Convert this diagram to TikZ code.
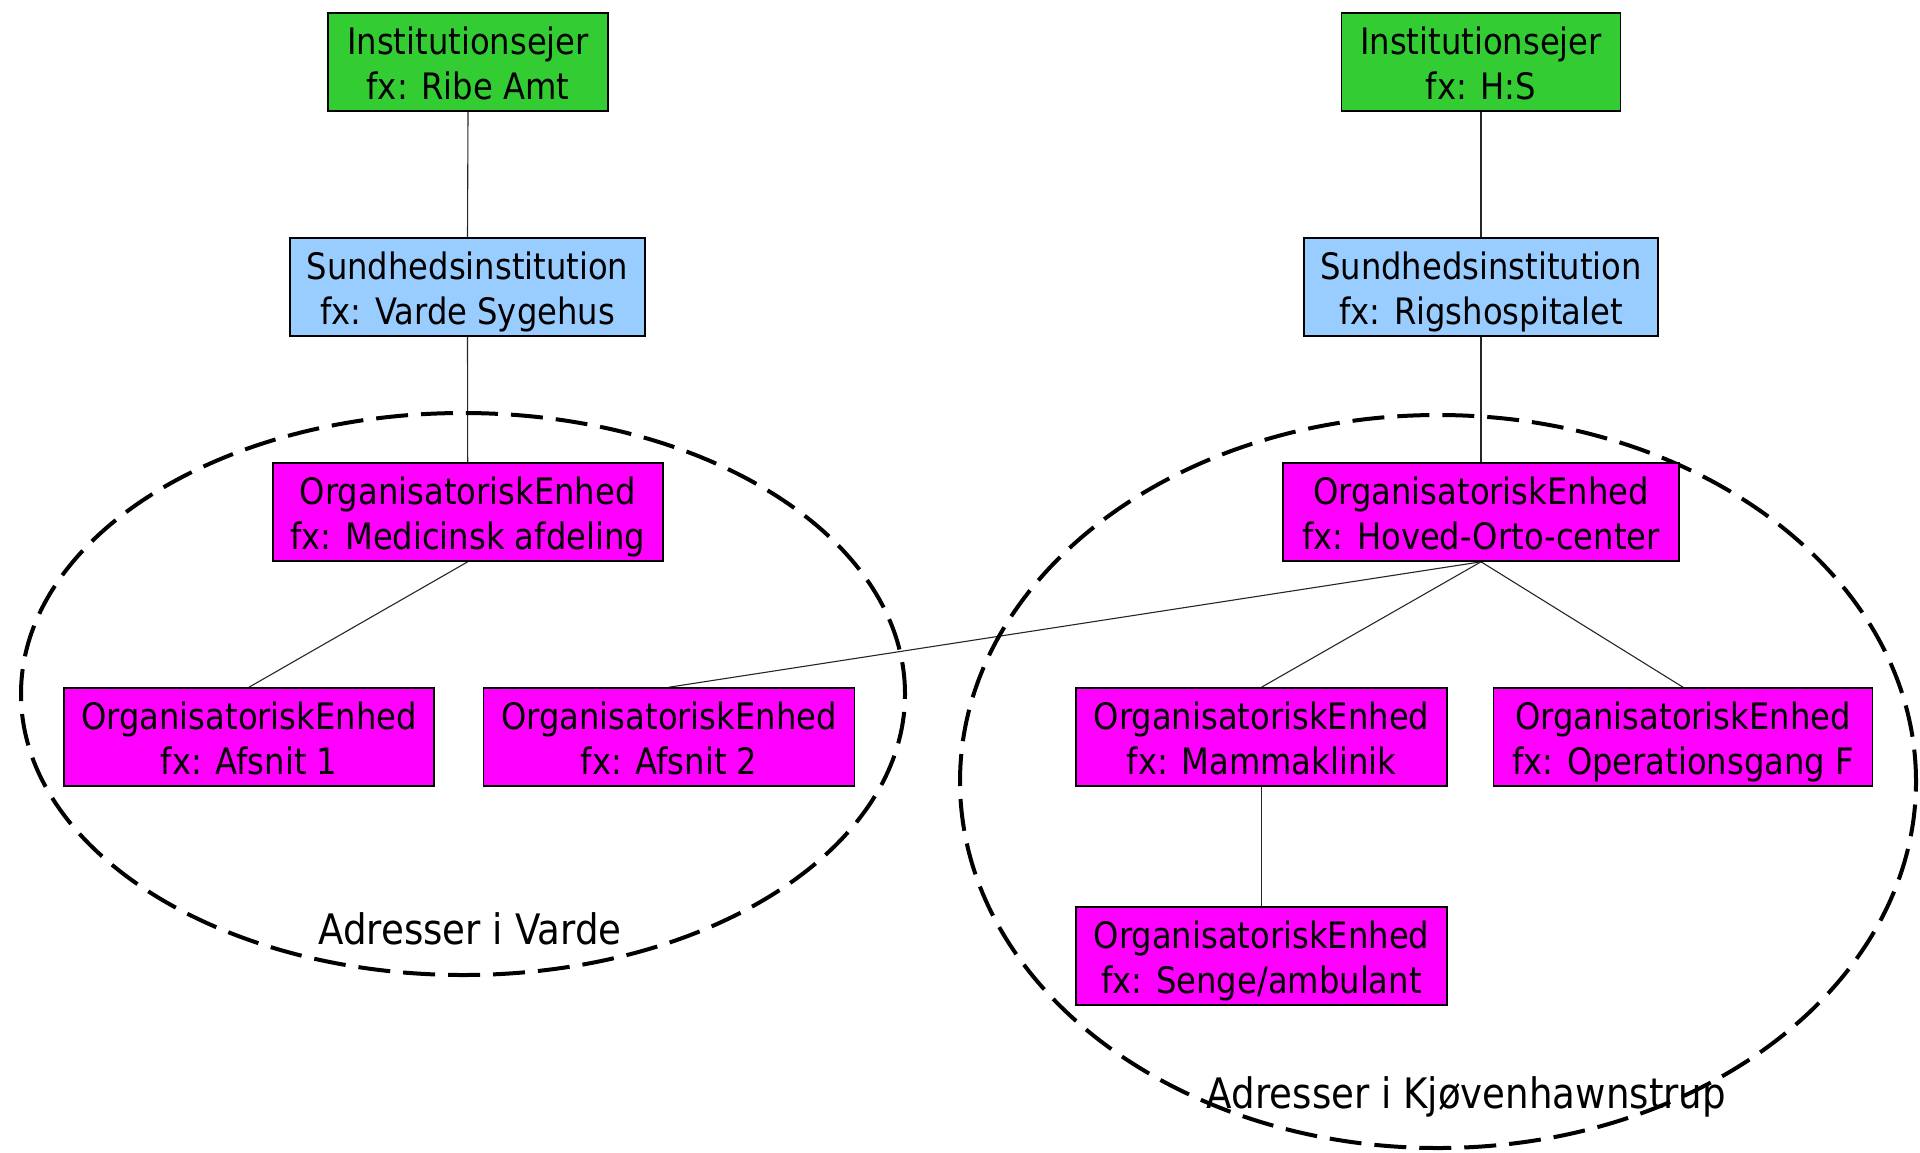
\documentclass[tikz,border=0pt]{standalone}
\usepackage{fontspec}
\setmainfont{DejaVu Sans}[FakeStretch=0.885]
\usetikzlibrary{backgrounds}
\definecolor{ownergreen}{RGB}{51,204,51}
\definecolor{instblue}{RGB}{153,204,255}
\definecolor{unitmag}{RGB}{255,0,255}
\newcommand{\mkbox}[2]{\rule{0pt}{19.8pt}#1\\#2\rule[-4.6pt]{0pt}{4.6pt}}
\tikzset{
  orgbox/.style={draw=black, line width=0.8pt, rectangle, align=center,
    minimum height=49pt, inner xsep=2pt, inner ysep=0pt,
    font=\fontsize{18.2pt}{22.25pt}\selectfont},
  ownerbox/.style={orgbox, fill=ownergreen},
  instbox/.style={orgbox, fill=instblue},
  unitbox/.style={orgbox, fill=unitmag},
  link/.style={draw=black!85, line width=0.55pt},
  region/.style={draw=black, line width=2pt, dash pattern=on 16pt off 6.5pt},
  regionlabel/.style={font=\fontsize{21pt}{25pt}\selectfont, inner sep=0pt, anchor=base}
}
\begin{document}
\begin{tikzpicture}[x=0.5pt,y=-0.5pt]
\useasboundingbox (0,0) rectangle (1920,1152);
% left hierarchy
\node[ownerbox, minimum width=140pt] (g1) at (468,62) {\mkbox{Institutionsejer}{fx: Ribe Amt}};
\node[instbox, minimum width=177.5pt] (b1) at (467.5,287) {\mkbox{Sundhedsinstitution}{fx: Varde Sygehus}};
\node[unitbox, minimum width=195pt] (m1) at (467.7,512) {\mkbox{OrganisatoriskEnhed}{fx: Medicinsk afdeling}};
\node[unitbox, minimum width=185pt] (a1) at (249,737) {\mkbox{OrganisatoriskEnhed}{fx: Afsnit 1}};
\node[unitbox, minimum width=185.5pt] (a2) at (669,737) {\mkbox{OrganisatoriskEnhed}{fx: Afsnit 2}};
% right hierarchy
\node[ownerbox, minimum width=139.5pt] (g2) at (1481,62) {\mkbox{Institutionsejer}{fx: H:S}};
\node[instbox, minimum width=177pt] (b2) at (1481,287) {\mkbox{Sundhedsinstitution}{fx: Rigshospitalet}};
\node[unitbox, minimum width=198pt] (m2) at (1481,512) {\mkbox{OrganisatoriskEnhed}{fx: Hoved-Orto-center}};
\node[unitbox, minimum width=185.25pt] (mk) at (1261.5,737) {\mkbox{OrganisatoriskEnhed}{fx: Mammaklinik}};
\node[unitbox, minimum width=189.5pt] (op) at (1683,737) {\mkbox{OrganisatoriskEnhed}{fx: Operationsgang F}};
\node[unitbox, minimum width=185.25pt] (sg) at (1261.5,956) {\mkbox{OrganisatoriskEnhed}{fx: Senge/ambulant}};
% region labels
\node[regionlabel] (lv) at (470,944) {Adresser i Varde};
\node[regionlabel] (lk) at (1466.5,1108) {Adresser i Kjøvenhawnstrup};
\begin{scope}[on background layer]
  \draw[link] (g1.south) -- (b1.north);
  \draw[link] (b1.south) -- (m1.north);
  \draw[link] (m1.south) -- (a1.north);
  \draw[link] (g2.south) -- (b2.north);
  \draw[link] (b2.south) -- (m2.north);
  \draw[link] (m2.south) -- (a2.north);
  \draw[link] (m2.south) -- (mk.north);
  \draw[link] (m2.south) -- (op.north);
  \draw[link] (mk.south) -- (sg.north);
  \draw[region] (463,694) ellipse [x radius=221pt, y radius=140.5pt];
  \draw[region] (1438,781.5) ellipse [x radius=239pt, y radius=183.25pt];
\end{scope}
\end{tikzpicture}
\end{document}
